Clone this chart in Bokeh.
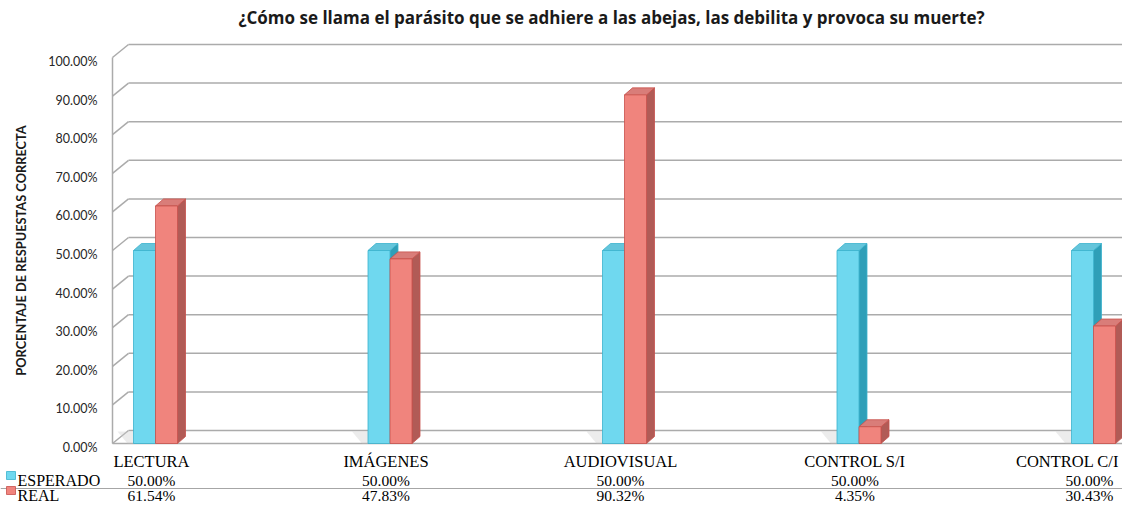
import math
from bokeh.plotting import figure
from bokeh.models import Range1d
from bokeh.core.properties import value
from bokeh.embed import file_html
from bokeh.resources import INLINE

# ---------------- data ----------------
title_text = "¿Cómo se llama el parásito que se adhiere a las abejas, las debilita y provoca su muerte?"
y_label = "PORCENTAJE DE RESPUESTAS CORRECTA"
categories = ["LECTURA", "IMÁGENES", "AUDIOVISUAL", "CONTROL S/I", "CONTROL C/I"]
series_names = ["ESPERADO", "REAL"]
esperado = [0.50, 0.50, 0.50, 0.50, 0.50]
real = [0.6154, 0.4783, 0.9032, 0.0435, 0.3043]
y_ticks = [0.0, 0.1, 0.2, 0.3, 0.4, 0.5, 0.6, 0.7, 0.8, 0.9, 1.0]
y_tick_labels = ["0.00%", "10.00%", "20.00%", "30.00%", "40.00%", "50.00%",
                 "60.00%", "70.00%", "80.00%", "90.00%", "100.00%"]

# ---------------- layout (pixels) ----------------
W, H = 1122, 503
PX_X = 234.5          # pixels per category
PX_Y = 386.0          # pixels per 100 %
CAT0_PX = 155.0       # picture x of first category centre
ZERO_PX = 443.0       # picture y of 0 %

x_start = -CAT0_PX / PX_X
x_end = x_start + W / PX_X
y_end = ZERO_PX / PX_Y
y_start = y_end - H / PX_Y


def sx(px_x):
    return x_start + px_x / PX_X


def sy(px_y):
    return y_end - px_y / PX_Y


def dxp(px):
    return px / PX_X


def dyp(px):
    return px / PX_Y


CYAN_FRONT = "#6FD8EF"
CYAN_TOP = "#64C5DB"
CYAN_SIDE = "#2F9FB8"
CYAN_LINE = "#3BB3CD"
RED_FRONT = "#F0847D"
RED_TOP = "#D97D79"
RED_SIDE = "#B15B56"
RED_LINE = "#C8514B"
GRID = "#ABABAB"
SERIF = "Liberation Serif"
SANS = "Lato"

p = figure(
    x_range=Range1d(x_start, x_end), y_range=Range1d(y_start, y_end),
    frame_width=W, frame_height=H,
    min_border_left=0, min_border_right=0, min_border_top=0, min_border_bottom=0,
    output_backend="svg", toolbar_location=None,
    x_axis_location=None, y_axis_location=None,
    outline_line_color=None, background_fill_color="white", border_fill_color="white",
)
p.xgrid.visible = False
p.ygrid.visible = False

# ---------------- value scale labels ----------------
p.text(x=[sx(97)] * len(y_ticks), y=[t - dyp(4) for t in y_ticks], text=y_tick_labels,
       text_align="right", text_baseline="middle", text_font=value(SANS),
       text_font_size="12.5px", text_color="#262626")
p.text(x=[sx(20)], y=[0.5], text=[y_label], angle=math.pi / 2, text_align="center",
       text_baseline="middle", text_font=value(SANS), text_font_style="bold",
       text_font_size="12.8px", text_color="#1a1a1a")

# ---------------- 3D walls / gridlines ----------------
ox, oy = dxp(16), dyp(13)
xl = sx(112)
wall_top = max(y_ticks)
p.segment(x0=[xl], y0=[0], x1=[xl], y1=[wall_top], line_color=GRID, line_width=1.5)
p.segment(x0=[xl] * len(y_ticks), y0=y_ticks,
          x1=[xl + ox] * len(y_ticks), y1=[t + oy for t in y_ticks],
          line_color=GRID, line_width=1.5)
p.segment(x0=[xl + ox] * len(y_ticks), y0=[t + oy for t in y_ticks],
          x1=[x_end] * len(y_ticks), y1=[t + oy for t in y_ticks],
          line_color=GRID, line_width=1.5)
p.segment(x0=[xl], y0=[0], x1=[x_end], y1=[0], line_color=GRID, line_width=1.5)

# ---------------- bars ----------------
bw = dxp(22)
bdx, bdy = dxp(8), dyp(7)
idx = list(range(len(categories)))

# soft floor shadows left of each bar pair
sh_xs, sh_ys = [], []
for i in idx:
    l = i - bw
    sh_xs.append([l - dxp(16), l, l, l - dxp(6)])
    sh_ys.append([oy - dyp(1), oy - dyp(1), 0, 0])
p.patches(sh_xs, sh_ys, fill_color="#C8C8C8", fill_alpha=0.35, line_color=None)


def faces(lefts, vals):
    tx, ty, sxs, sys_ = [], [], [], []
    for l, v in zip(lefts, vals):
        r = l + bw
        tx.append([l, r, r + bdx, l + bdx])
        ty.append([v, v, v + bdy, v + bdy])
        sxs.append([r, r + bdx, r + bdx, r])
        sys_.append([0, bdy, v + bdy, v])
    return tx, ty, sxs, sys_


c_left = [i - bw for i in idx]
r_left = [i for i in idx]

tx, ty, sxs, sys_ = faces(c_left, esperado)
p.patches(sxs, sys_, fill_color=CYAN_SIDE, line_color=CYAN_LINE, line_width=0.8)
p.patches(tx, ty, fill_color=CYAN_TOP, line_color=CYAN_LINE, line_width=0.8)
p.vbar(x=[i - bw / 2 for i in idx], width=bw, bottom=0, top=esperado,
       fill_color=CYAN_FRONT, line_color=CYAN_LINE, line_width=0.8)

tx, ty, sxs, sys_ = faces(r_left, real)
p.patches(sxs, sys_, fill_color=RED_SIDE, line_color=RED_LINE, line_width=0.8)
p.patches(tx, ty, fill_color=RED_TOP, line_color=RED_LINE, line_width=0.8)
p.vbar(x=[i + bw / 2 for i in idx], width=bw, bottom=0, top=real,
       fill_color=RED_FRONT, line_color=RED_LINE, line_width=0.8)

# ---------------- title ----------------
p.text(x=[sx(611)], y=[sy(17)], text=[title_text], text_align="center",
       text_baseline="middle", text_font=value("Open Sans"), text_font_style="bold",
       text_font_size="17px", text_color="#1a1a1a")

# ---------------- category labels + data table ----------------
row_cat, row_esp, row_line, row_real = sy(461), sy(480), sy(488), sy(495)
label_shift = [-4, -4, -4, -4, -26]   # last label kept inside the picture
p.text(x=idx, y=[row_cat] * len(idx), text=categories, x_offset=label_shift,
       text_align="center", text_baseline="middle", text_font=value(SERIF),
       text_font_size="16.5px", text_color="black")
p.text(x=idx, y=[row_esp] * len(idx), text=[f"{v * 100:.2f}%" for v in esperado],
       x_offset=-4, text_align="center", text_baseline="middle",
       text_font=value(SERIF), text_font_size="15.5px", text_color="black")
p.text(x=idx, y=[row_real] * len(idx), text=[f"{v * 100:.2f}%" for v in real],
       x_offset=-4, text_align="center", text_baseline="middle",
       text_font=value(SERIF), text_font_size="15.5px", text_color="black")

# row separator
p.segment(x0=[sx(0)], y0=[row_line], x1=[sx(1122)], y1=[row_line],
          line_color="#A6A6A6", line_width=1)

# row headers with colour keys
rows_y = [row_esp, row_real]
key_colors = [CYAN_FRONT, RED_FRONT]
key_lines = [CYAN_LINE, RED_LINE]
p.quad(left=[sx(6)] * 2, right=[sx(15)] * 2,
       bottom=[r + dyp(1) for r in rows_y], top=[r + dyp(9) for r in rows_y],
       fill_color=key_colors, line_color=key_lines, line_width=0.8)
p.text(x=[sx(17)] * 2, y=rows_y, text=series_names, text_align="left",
       text_baseline="middle", text_font=value(SERIF), text_font_size="16px",
       text_color="black")

open("out.html", "w").write(file_html(p, INLINE))
